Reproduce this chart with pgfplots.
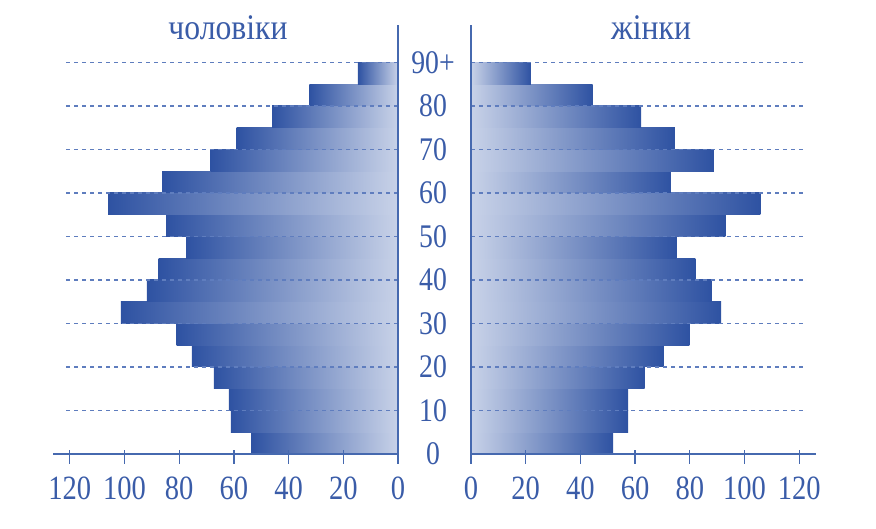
\documentclass[border=0pt]{standalone}
\usepackage{pgfplots}
\pgfplotsset{compat=1.18}
\usepackage{fontspec}
\setmainfont{Liberation Serif}
\newfontfamily\numfont{Liberation Serif}[FakeStretch=0.84]
\newfontfamily\titlefont{Liberation Serif}[FakeStretch=0.88]
\definecolor{barDark}{RGB}{46,82,162}
\definecolor{barLight}{RGB}{200,210,232}
\definecolor{txtBlue}{RGB}{58,92,168}
\definecolor{gridBlue}{RGB}{95,125,190}
\definecolor{axBlue}{RGB}{70,105,175}

\pgfplotsset{pyr/.style={
  scale only axis, width=333.7pt, height=429pt,
  xmin=0, xmax=122, ymin=0, ymax=98.6,
  xtick={0,20,...,120},
  axis x line=bottom,
  ytick={0,10,...,90},
  major tick length=14pt, tick align=center,
  xtick style={draw=axBlue, line width=1.3pt, yshift=-3pt},
  ytick style={draw=none},
  ymajorgrids, grid style={draw=gridBlue, line width=1.2pt, dash pattern=on 4pt off 4pt},
  axis on top,
  /pgf/number format/assume math mode=true,
  xticklabel style={font=\numfont\fontsize{34}{34}\selectfont, text=txtBlue, yshift=-12pt},
  anchor=origin,
},
mbar/.style={xbar, bar width=5, bar shift=0pt, draw=none, left color=barDark, right color=barLight},
fbar/.style={xbar, bar width=5, bar shift=0pt, draw=none, left color=barLight, right color=barDark}}

\begin{document}
\begin{tikzpicture}
\path[use as bounding box] (0,0) rectangle (876pt,529pt);
% men (left)
\begin{axis}[pyr, at={(398pt,75pt)}, x dir=reverse, axis y line=right, yticklabels={},
  axis line style={-, draw=axBlue, line width=1.5pt},
  x axis line style={-, shorten >=-11.5pt}, y axis line style={-}]
\addplot[mbar] coordinates {(53.6,2.5)};
\addplot[mbar] coordinates {(61.1,7.5)};
\addplot[mbar] coordinates {(61.8,12.5)};
\addplot[mbar] coordinates {(67.3,17.5)};
\addplot[mbar] coordinates {(75.4,22.5)};
\addplot[mbar] coordinates {(80.9,27.5)};
\addplot[mbar] coordinates {(101.3,32.5)};
\addplot[mbar] coordinates {(91.8,37.5)};
\addplot[mbar] coordinates {(87.5,42.5)};
\addplot[mbar] coordinates {(77.5,47.5)};
\addplot[mbar] coordinates {(84.8,52.5)};
\addplot[mbar] coordinates {(106.0,57.5)};
\addplot[mbar] coordinates {(86.2,62.5)};
\addplot[mbar] coordinates {(68.5,67.5)};
\addplot[mbar] coordinates {(59.0,72.5)};
\addplot[mbar] coordinates {(46.0,77.5)};
\addplot[mbar] coordinates {(32.4,82.5)};
\addplot[mbar] coordinates {(14.7,87.5)};
\end{axis}
% women (right)
\begin{axis}[pyr, at={(471pt,75pt)}, axis y line=left,
  axis line style={-, draw=axBlue, line width=1.5pt},
  x axis line style={-, shorten >=-11.5pt}, y axis line style={-},
  yticklabels={0,10,20,30,40,50,60,70,80,90+},
  yticklabel style={font=\numfont\fontsize{33}{33}\selectfont, text=txtBlue, anchor=center, xshift=-31pt}]
\addplot[fbar] coordinates {(52.0,2.5)};
\addplot[fbar] coordinates {(57.4,7.5)};
\addplot[fbar] coordinates {(57.4,12.5)};
\addplot[fbar] coordinates {(63.5,17.5)};
\addplot[fbar] coordinates {(70.3,22.5)};
\addplot[fbar] coordinates {(79.8,27.5)};
\addplot[fbar] coordinates {(91.4,32.5)};
\addplot[fbar] coordinates {(88.0,37.5)};
\addplot[fbar] coordinates {(82.0,42.5)};
\addplot[fbar] coordinates {(75.1,47.5)};
\addplot[fbar] coordinates {(93.0,52.5)};
\addplot[fbar] coordinates {(105.8,57.5)};
\addplot[fbar] coordinates {(73.1,62.5)};
\addplot[fbar] coordinates {(88.8,67.5)};
\addplot[fbar] coordinates {(74.5,72.5)};
\addplot[fbar] coordinates {(62.2,77.5)};
\addplot[fbar] coordinates {(44.5,82.5)};
\addplot[fbar] coordinates {(21.9,87.5)};
\end{axis}
\node[font=\titlefont\fontsize{36}{36}\selectfont, text=txtBlue, anchor=base] at (228pt,489pt) {чоловіки};
\node[font=\titlefont\fontsize{36}{36}\selectfont, text=txtBlue, anchor=base] at (651pt,489pt) {жінки};
\end{tikzpicture}
\end{document}
